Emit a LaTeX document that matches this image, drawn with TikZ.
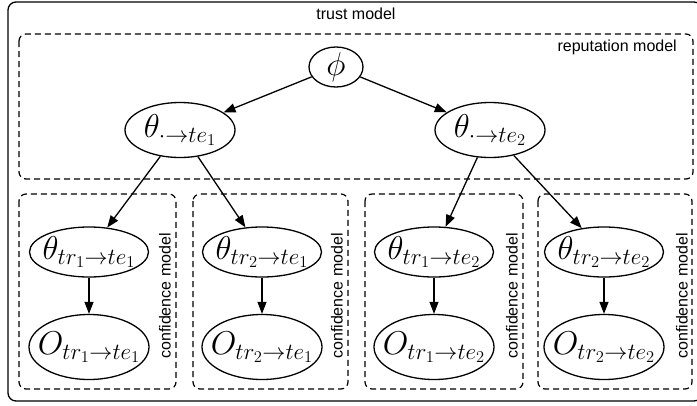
\RequirePackage{fix-cm}
\documentclass[tikz,border=0pt]{standalone}
\usepackage{fontspec}
\setsansfont{Liberation Sans}
\usetikzlibrary{shapes.geometric,arrows.meta}
\begin{document}
\begin{tikzpicture}[x=1pt,y=-1pt,
  lw/.style={line width=1.3pt},
  var/.style={ellipse, draw, line width=1.3pt, inner sep=0pt,
    label={[font=\fontsize{33}{36}\selectfont, inner sep=0pt]center:#1}},
  grp/.style={draw, line width=1.2pt, dash pattern=on 6pt off 4pt, rounded corners=7pt},
  lab/.style={font=\sffamily\fontsize{16}{19}\selectfont, inner sep=0pt},
  edge/.style={line width=1.3pt, -{Triangle[length=12pt,width=9pt]}}]
\clip (0,0) rectangle (697,405);
% outer trust model box
\draw[lw, rounded corners=8pt] (8,2) rectangle (702,401);
\node[lab] (tm) at (356,14) {trust model};
% reputation model
\draw[grp] (19,34) rectangle (693,179);
\node[lab, anchor=east] (rm) at (677,47) {reputation model};
% confidence models
\draw[grp] (19,194) rectangle (176,389);
\draw[grp] (193,194) rectangle (348,389);
\draw[grp] (365,194) rectangle (523,389);
\draw[grp] (538,194) rectangle (692,389);
\node[lab, rotate=90] (c1) at (165,296) {confidence model};
\node[lab, rotate=90] (c2) at (337,296) {confidence model};
\node[lab, rotate=90] (c3) at (512,296) {confidence model};
\node[lab, rotate=90] (c4) at (682,296) {confidence model};
% nodes
\node[var={$\phi$}, minimum width=54pt, minimum height=40pt] (phi) at (336,67) {};
\node[var={$\theta_{\cdot\to te_1}$}, minimum width=110pt, minimum height=55pt] (a1) at (180,130) {};
\node[var={$\theta_{\cdot\to te_2}$}, minimum width=110pt, minimum height=55pt] (a2) at (490,130) {};
\node[var={$\theta_{tr_1\to te_1}$}, minimum width=119pt, minimum height=50pt] (t1) at (89,252) {};
\node[var={$\theta_{tr_2\to te_1}$}, minimum width=119pt, minimum height=50pt] (t2) at (262,252) {};
\node[var={$\theta_{tr_1\to te_2}$}, minimum width=119pt, minimum height=50pt] (t3) at (434,252) {};
\node[var={$\theta_{tr_2\to te_2}$}, minimum width=119pt, minimum height=50pt] (t4) at (604,252) {};
\node[var={$O_{tr_1\to te_1}$}, minimum width=120pt, minimum height=65pt] (o1) at (89,347) {};
\node[var={$O_{tr_2\to te_1}$}, minimum width=120pt, minimum height=65pt] (o2) at (262,347) {};
\node[var={$O_{tr_1\to te_2}$}, minimum width=120pt, minimum height=65pt] (o3) at (434,347) {};
\node[var={$O_{tr_2\to te_2}$}, minimum width=120pt, minimum height=65pt] (o4) at (604,347) {};
% edges
\draw[edge] (phi) -- (a1);
\draw[edge] (phi) -- (a2);
\draw[edge] (a1) -- (t1);
\draw[edge] (a1) -- (t2);
\draw[edge] (a2) -- (t3);
\draw[edge] (a2) -- (t4);
\draw[edge] (t1) -- (o1);
\draw[edge] (t2) -- (o2);
\draw[edge] (t3) -- (o3);
\draw[edge] (t4) -- (o4);
\end{tikzpicture}
\end{document}
